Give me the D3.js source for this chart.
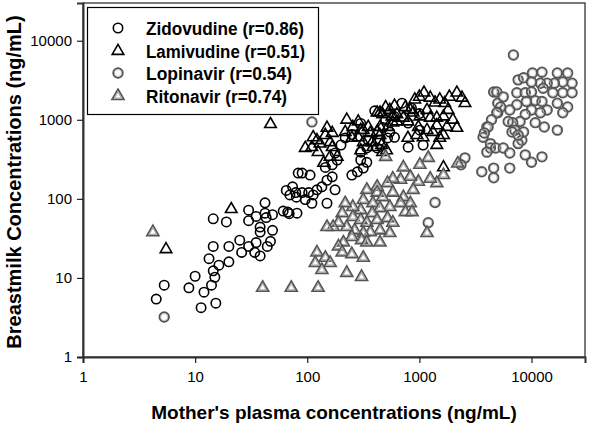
<!DOCTYPE html>
<html><head><meta charset="utf-8">
<script src="https://cdn.jsdelivr.net/npm/d3@7"></script>
<style>body{margin:0;background:#fff}svg{display:block}text{font-family:"Liberation Sans",Arial,sans-serif}</style>
</head><body><svg id="c" width="600" height="425"></svg>
<script>
const xTicks = [1, 10, 100, 1000, 10000];
const yTicks = [1, 10, 100, 1000, 10000];
const seriesNames = ["Zidovudine (r=0.86)", "Lamivudine (r=0.51)", "Lopinavir (r=0.54)", "Ritonavir (r=0.74)"];
const zidovudine = [[14.5,56],[19,51],[30,72],[30,53],[42,89],[35,60],[42,66],[49,63],[61,70],[69,65],[81,66],[38,44],[43,58],[49,40],[38,38],[14.5,25],[20,25],[25,30],[26,21],[30,25],[34,21],[35,28],[44,25],[47,29],[38,19],[13.3,17.5],[16.3,14.5],[20,16],[14.5,12.3],[15,10.2],[10,10.5],[8.8,7.5],[14,8.1],[12,6.6],[15.3,4.8],[11.3,4.2],[5.3,8.1],[4.5,5.4],[83,212],[65,128],[79,120],
[700,1620],[794,910],[1010,740],[1080,480],[794,450],[600,600],[520,590],[445,550],[420,440],[350,550],[340,440],[300,390],[300,310],[340,290],[316,245],[280,220],[250,200],[218,590],[185,310],[167,270],[145,250],[167,190],[150,172],[177,130],[135,142],[122,130],[113,112],[103,120],[90,120],[96,98],[80,105],[74,142],[70,112],[67,68],[110,88],[150,88],[106,200],[90,212],[177,380],[475,800],[545,700],[400,1300],[600,1100],[850,1400],[1000,1200],[500,1000],[300,900],[250,650],[200,480]];
const lamivudine = [[445,1230],[500,1440],[545,1330],[600,1500],[750,1440],[830,1330],[910,1800],[1000,1950],[1100,2200],[1250,1900],[1380,1650],[1520,1800],[1680,1620],[1850,1950],[2160,2200],[2550,1620],[2400,1900],[420,1230],[470,1170],[570,1100],[630,1170],[720,1060],[790,950],[880,1230],[1010,1100],[1170,1330],[1250,1060],[1430,1060],[1640,1100],[1800,1330],[1990,1000],[2160,790],[1760,810],[1430,850],[1320,700],[1640,640],[1520,590],[1430,480],[1170,740],[1080,600],[980,810],[950,640],[790,590],[630,950],[580,920],[525,810],[445,810],[420,700],[350,810],[316,740],[285,950],[300,740],[255,810],[225,1000],[218,700],[250,590],[285,600],[316,520],[365,680],[380,520],[445,640],[460,480],[385,450],[300,410],[470,390],[510,410],[150,790],[167,680],[145,640],[122,550],[113,600],[130,500],[160,520],[167,450],[96,440],[110,450],[125,390],[160,340],[140,285],[1640,250],[185,340],[47,880],[21,74],[5.5,23]];
const lopinavir = [[5.3,3.2],[110,940],[1380,90],[1200,50],[2550,330],[2350,270],[4600,2250],[5000,1620],[5000,1230],[4000,810],[3700,600],[4300,440],[4000,390],[4600,245],[3600,220],[4600,185],
[4900,2250],[5600,1950],[7600,3200],[8500,3400],[10200,3900],[12400,4000],[17000,3900],[21000,3900],[23000,2900],[19000,3000],[16000,2900],[13800,2900],[12000,2900],[10000,3000],[7400,2200],[8800,2200],[10000,2250],[12700,2500],[15500,2200],[19000,2200],[23000,2200],[10800,1750],[9000,1700],[12400,1700],[7400,1550],[6400,1330],[5300,1450],[4900,1230],[4400,1000],[4100,810],[3800,680],[4300,500],[4800,440],[5600,440],[6400,380],[8800,360],[10000,290],[12400,340],[6400,245],[13800,1330],[10000,1330],[8800,1170],[7900,950],[6800,920],[6200,950],[7100,740],[6700,700],[8200,550],[7600,500],[10800,920],[13000,810],[12000,1230],[17000,1620],[21000,1450],[19000,1230],[17000,740],[8500,700],[7600,640],[6900,6600]];
const ritonavir = [[500,340],[720,250],[1200,330],[1010,270],[2200,280],[1640,200],[1430,158],[1250,180],[980,165],[830,190],[680,175],[580,180],[520,158],[420,142],[340,130],[420,120],[316,97],[385,88],[470,105],[580,120],[720,105],[880,130],[830,88],[680,88],[545,79],[445,76],[380,66],[300,72],[255,79],[218,88],[205,66],[255,59],[300,54],[340,50],[420,54],[520,57],[580,50],[545,37],[445,40],[365,38],[316,37],[265,40],[225,44],[190,50],[170,44],[150,44],[250,33],[305,30],[340,28],[210,28],[190,25],[205,21],[250,20],[316,18],[445,28],[122,21],[145,18],[118,15.5],[160,15.5],[135,12.6],[225,11.6],[305,10.3],[1170,37],[750,68],[860,68],[4.2,38],[40,7.5],[72,7.5],[125,7.5]];

const svg = d3.select("#c");
const L = 83, R = 585, T = 3, B = 357;
const x = d3.scaleLog().domain([1, 30000]).range([L, R]);
const y = d3.scaleLog().domain([1, 30000]).range([B, T]);

svg.append("rect").attr("x", L).attr("y", T).attr("width", R - L).attr("height", B - T)
  .attr("fill", "none").attr("stroke", "#222").attr("stroke-width", 1.2);

const xa = svg.append("g").attr("transform", `translate(0,${B})`)
  .call(d3.axisBottom(x).tickValues(xTicks).tickFormat(d3.format("d")).tickSize(6).tickPadding(8));
const ya = svg.append("g").attr("transform", `translate(${L},0)`)
  .call(d3.axisLeft(y).tickValues(yTicks).tickFormat(d3.format("d")).tickSize(6).tickPadding(5));
[xa, ya].forEach(a => {
  a.select(".domain").attr("stroke", "#333").attr("stroke-width", 2);
  a.selectAll(".tick line").attr("stroke", "#222").attr("stroke-width", 1.2);
  a.selectAll(".tick text").attr("font-size", 15).attr("fill", "#000").attr("font-family", "Liberation Sans, Arial, sans-serif");
});

svg.append("text").attr("x", 334).attr("y", 419).attr("text-anchor", "middle")
  .attr("font-size", 19).attr("font-weight", "bold").text("Mother's plasma concentrations (ng/mL)");
svg.append("text").attr("transform", "translate(21,182) rotate(-90)").attr("text-anchor", "middle")
  .attr("font-size", 20).attr("font-weight", "bold").text("Breastmilk Concentrations (ng/mL)");

const tri = d3.symbol().type(d3.symbolTriangle);
function drawCircle(g, cx, cy, kind) {
  if (kind === 0) {
    g.append("circle").attr("cx", cx).attr("cy", cy).attr("r", 4.7)
      .attr("fill", "none").attr("stroke", "#000").attr("stroke-width", 1.6);
  } else {
    g.append("circle").attr("cx", cx).attr("cy", cy).attr("r", 4.7)
      .attr("fill", "none").attr("stroke", "#555").attr("stroke-width", 2);
    g.append("circle").attr("cx", cx).attr("cy", cy).attr("r", 3.5)
      .attr("fill", "none").attr("stroke", "#bbb").attr("stroke-width", 0.9);
  }
}
function drawTri(g, cx, cy, kind) {
  if (kind === 0) {
    g.append("path").attr("d", tri.size(58)()).attr("transform", `translate(${cx},${cy})`)
      .attr("fill", "none").attr("stroke", "#000").attr("stroke-width", 1.6);
  } else {
    g.append("path").attr("d", tri.size(60)()).attr("transform", `translate(${cx},${cy})`)
      .attr("fill", "none").attr("stroke", "#555").attr("stroke-width", 1.8);
    g.append("path").attr("d", tri.size(24)()).attr("transform", `translate(${cx},${cy})`)
      .attr("fill", "none").attr("stroke", "#aaa").attr("stroke-width", 1.2);
  }
}
const pts = svg.append("g");
zidovudine.forEach(d => drawCircle(pts, x(d[0]), y(d[1]), 0));
lamivudine.forEach(d => drawTri(pts, x(d[0]), y(d[1]), 0));
lopinavir.forEach(d => drawCircle(pts, x(d[0]), y(d[1]), 1));
ritonavir.forEach(d => drawTri(pts, x(d[0]), y(d[1]), 1));

const lg = svg.append("g");
lg.append("rect").attr("x", 87.5).attr("y", 7.5).attr("width", 231).attr("height", 107)
  .attr("fill", "#fff").attr("stroke", "#000").attr("stroke-width", 1.2);
const rowsY = [28, 51, 73, 96];
seriesNames.forEach((name, i) => {
  if (i % 2 === 0) drawCircle(lg, 118, rowsY[i], i === 0 ? 0 : 1);
  else drawTri(lg, 118, rowsY[i], i === 1 ? 0 : 1);
  lg.append("text").attr("x", 146).attr("y", rowsY[i] + 6.5).attr("font-size", 18)
    .attr("font-weight", "bold").attr("textLength", 158).attr("lengthAdjust", "spacingAndGlyphs")
    .text(name);
});
// keep the per-row widths proportional to the reference
lg.selectAll("text").each(function(d, i) {
  const w = [158, 159, 146, 141][i];
  d3.select(this).attr("textLength", w);
});
</script></body></html>
